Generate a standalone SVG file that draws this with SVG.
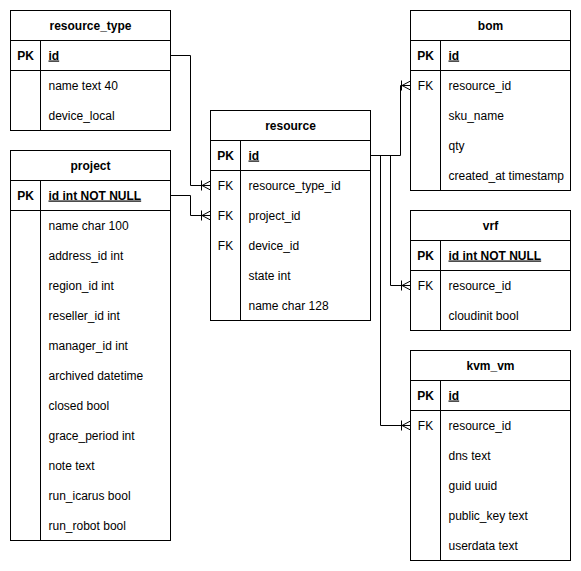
<svg xmlns="http://www.w3.org/2000/svg" width="581" height="571" viewBox="0 0 581 571">
<style>
.box{fill:#fff;stroke:#000;stroke-width:1}
.ln{stroke:#000;stroke-width:1;fill:none}
text{font-family:"Liberation Sans",Arial,Helvetica,sans-serif;font-size:12px;fill:#000}
.h{font-weight:bold;text-anchor:middle}
.k{text-anchor:middle}
.kb{font-weight:bold;text-anchor:middle}
.pk{font-weight:bold;text-decoration:underline}
.conn{stroke:#000;stroke-width:1;fill:none;marker-end:url(#crow)}
</style>
<defs>
<marker id="crow" markerUnits="userSpaceOnUse" orient="auto" viewBox="0 0 10 10" refX="10" refY="5" markerWidth="10" markerHeight="10" overflow="visible">
<path d="M1,0 L1,10 M1.5,5 L10,0.5 M1.5,5 L10,9.5" fill="none" stroke="#000" stroke-width="1"/>
</marker>
</defs>
<rect width="581" height="571" fill="#fff"/>
<g transform="translate(0.5,0.5)">
<g id="connectors">
<path class="conn" d="M170,55 H190 V185 H210"/>
<path class="conn" d="M170,195 H190 V215 H210"/>
<path class="conn" d="M370,155 H400 V85 H410"/>
<path class="conn" d="M370,155 H390 V285 H410"/>
<path class="conn" d="M370,155 H380 V425 H410"/>
</g>
<g id="resource_type">
<rect class="box" x="10" y="10" width="160" height="120"/>
<path class="ln" d="M10,40 H170 M10,70 H170 M40,40 V130"/>
<text class="h" x="90" y="29">resource_type</text>
<text class="kb" x="25" y="59">PK</text>
<text class="pk" x="48" y="59">id</text>
<text x="48" y="89">name text 40</text>
<text x="48" y="119">device_local</text>
</g>
<g id="project">
<rect class="box" x="10" y="150" width="160" height="390"/>
<path class="ln" d="M10,180 H170 M10,210 H170 M40,180 V540"/>
<text class="h" x="90" y="169">project</text>
<text class="kb" x="25" y="199">PK</text>
<text class="pk" x="48" y="199">id int NOT NULL</text>
<text x="48" y="229">name char 100</text>
<text x="48" y="259">address_id int</text>
<text x="48" y="289">region_id int</text>
<text x="48" y="319">reseller_id int</text>
<text x="48" y="349">manager_id int</text>
<text x="48" y="379">archived datetime</text>
<text x="48" y="409">closed bool</text>
<text x="48" y="439">grace_period int</text>
<text x="48" y="469">note text</text>
<text x="48" y="499">run_icarus bool</text>
<text x="48" y="529">run_robot bool</text>
</g>
<g id="resource">
<rect class="box" x="210" y="110" width="160" height="210"/>
<path class="ln" d="M210,140 H370 M210,170 H370 M240,140 V320"/>
<text class="h" x="290" y="129">resource</text>
<text class="kb" x="225" y="159">PK</text>
<text class="pk" x="248" y="159">id</text>
<text class="k" x="225" y="189">FK</text>
<text x="248" y="189">resource_type_id</text>
<text class="k" x="225" y="219">FK</text>
<text x="248" y="219">project_id</text>
<text class="k" x="225" y="249">FK</text>
<text x="248" y="249">device_id</text>
<text x="248" y="279">state int</text>
<text x="248" y="309">name char 128</text>
</g>
<g id="bom">
<rect class="box" x="410" y="10" width="160" height="180"/>
<path class="ln" d="M410,40 H570 M410,70 H570 M440,40 V190"/>
<text class="h" x="490" y="29">bom</text>
<text class="kb" x="425" y="59">PK</text>
<text class="pk" x="448" y="59">id</text>
<text class="k" x="425" y="89">FK</text>
<text x="448" y="89">resource_id</text>
<text x="448" y="119">sku_name</text>
<text x="448" y="149">qty</text>
<text x="448" y="179">created_at timestamp</text>
</g>
<g id="vrf">
<rect class="box" x="410" y="210" width="160" height="120"/>
<path class="ln" d="M410,240 H570 M410,270 H570 M440,240 V330"/>
<text class="h" x="490" y="229">vrf</text>
<text class="kb" x="425" y="259">PK</text>
<text class="pk" x="448" y="259">id int NOT NULL</text>
<text class="k" x="425" y="289">FK</text>
<text x="448" y="289">resource_id</text>
<text x="448" y="319">cloudinit bool</text>
</g>
<g id="kvm_vm">
<rect class="box" x="410" y="350" width="160" height="210"/>
<path class="ln" d="M410,380 H570 M410,410 H570 M440,380 V560"/>
<text class="h" x="490" y="369">kvm_vm</text>
<text class="kb" x="425" y="399">PK</text>
<text class="pk" x="448" y="399">id</text>
<text class="k" x="425" y="429">FK</text>
<text x="448" y="429">resource_id</text>
<text x="448" y="459">dns text</text>
<text x="448" y="489">guid uuid</text>
<text x="448" y="519">public_key text</text>
<text x="448" y="549">userdata text</text>
</g>
</g>
</svg>
